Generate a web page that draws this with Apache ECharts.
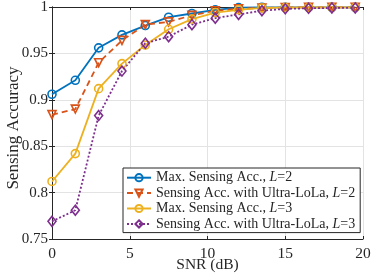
<!DOCTYPE html>
<html>
<head>
<meta charset="utf-8">
<script src="https://cdn.jsdelivr.net/npm/echarts@6/dist/echarts.min.js"></script>
<style>html,body{margin:0;padding:0;background:#fff;}#c{width:374px;height:278px;}</style>
</head>
<body>
<div id="c"></div>
<script>
const snr = [0, 1.5, 3, 4.5, 6, 7.5, 9, 10.5, 12, 13.5, 15, 16.5, 18, 19.5];
const maxL2 = [0.906, 0.921, 0.956, 0.970, 0.980, 0.989, 0.993, 0.997, 0.9993, 0.9996, 0.9997, 0.9997, 0.9997, 0.9997];
const ulL2 = [0.884, 0.890, 0.940, 0.964, 0.981, 0.984, 0.991, 0.996, 0.998, 0.999, 0.9995, 0.9996, 0.9996, 0.9996];
const maxL3 = [0.812, 0.842, 0.912, 0.939, 0.959, 0.976, 0.987, 0.994, 0.997, 0.999, 0.9994, 0.9995, 0.9995, 0.9995];
const ulL3 = [0.769, 0.781, 0.883, 0.931, 0.961, 0.968, 0.981, 0.988, 0.992, 0.996, 0.998, 0.9986, 0.999, 0.999];
const names = ['Max. Sensing Acc., L=2', 'Sensing Acc. with Ultra-LoLa, L=2', 'Max. Sensing Acc., L=3', 'Sensing Acc. with Ultra-LoLa, L=3'];
const xTicks = [0, 5, 10, 15, 20];
const yTicks = [0.75, 0.8, 0.85, 0.9, 0.95, 1];

const serif = "'Liberation Serif', 'DejaVu Serif', serif";
const axisColor = '#262626';
const pairs = a => a.map((v, i) => [snr[i], v]);

function mk(name, data, color, symbol, dash) {
  return {
    name, type: 'line', data: pairs(data),
    symbol, symbolSize: 8,
    lineStyle: { color, width: 1.8, type: dash },
    itemStyle: { color: 'rgba(255,255,255,0)', borderColor: color, borderWidth: 1.6 },
    emphasis: { disabled: true }, animation: false
  };
}
const tri = 'path://M0,0 L10,0 L5,9 Z';
const series = [
  mk(names[0], maxL2, '#0072BD', 'circle', 'solid'),
  mk(names[1], ulL2, '#D95319', tri, [6, 4]),
  mk(names[2], maxL3, '#EDB120', 'circle', 'solid'),
  mk(names[3], ulL3, '#7E2F8E', 'diamond', [2, 2])
];
series[3].symbolSize = [8, 10];

const chart = echarts.init(document.getElementById('c'), null, { renderer: 'canvas' });
chart.setOption({
  backgroundColor: '#fff',
  animation: false,
  grid: { left: 52, right: 11, top: 7, bottom: 39, containLabel: false, outerBoundsMode: 'none' },
  xAxis: [{
    type: 'value', min: 0, max: 20, interval: 5,
    name: 'SNR (dB)', nameLocation: 'middle', nameGap: 18, nameMoveOverlap: false,
    nameTextStyle: { fontFamily: serif, fontSize: 15.5, color: axisColor },
    axisLine: { lineStyle: { color: axisColor, width: 1 } },
    axisTick: { inside: true, length: 3, lineStyle: { color: axisColor } },
    axisLabel: { fontFamily: serif, fontSize: 15.5, color: axisColor, margin: 7,
      formatter: v => { const t = xTicks.find(k => k === v); return t === undefined ? '' : String(t); } },
    splitLine: { show: true, lineStyle: { color: '#e3e3e3', width: 1 } }
  }, {
    type: 'value', min: 0, max: 20, interval: 5, position: 'top',
    axisLine: { show: true, lineStyle: { color: axisColor } },
    axisTick: { inside: true, length: 3, lineStyle: { color: axisColor } },
    axisLabel: { show: false }, splitLine: { show: false }
  }],
  yAxis: [{
    type: 'value', min: 0.75, max: 1, interval: 0.05,
    name: 'Sensing Accuracy', nameLocation: 'middle', nameGap: 30, nameMoveOverlap: false,
    nameTextStyle: { fontFamily: serif, fontSize: 17, color: axisColor, padding: [0, 10, 0, 0] },
    axisLine: { show: true, lineStyle: { color: axisColor, width: 1 } },
    axisTick: { show: true, inside: true, length: 3, lineStyle: { color: axisColor } },
    axisLabel: { fontFamily: serif, fontSize: 15, color: axisColor, margin: 4,
      formatter: v => { const t = yTicks.find(k => Math.abs(k - v) < 1e-9); return t === undefined ? '' : String(t); } },
    splitLine: { show: true, lineStyle: { color: '#e3e3e3', width: 1 } }
  }, {
    type: 'value', min: 0.75, max: 1, interval: 0.05, position: 'right',
    axisLine: { show: true, lineStyle: { color: axisColor } },
    axisTick: { show: true, inside: true, length: 3, lineStyle: { color: axisColor } },
    axisLabel: { show: false }, splitLine: { show: false }
  }],
  legend: {
    orient: 'vertical', left: 123, top: 168,
    padding: [2, 5, 1, 3], itemGap: 0, itemWidth: 24, itemHeight: 9,
    backgroundColor: '#fff', borderColor: '#262626', borderWidth: 1, borderRadius: 0,
    selectedMode: false,
    textStyle: { fontFamily: serif, fontSize: 14, color: '#262626', lineHeight: 15.4,
      rich: {
        a: { fontFamily: serif, fontSize: 14, color: '#262626', lineHeight: 15.4 },
        i: { fontFamily: serif, fontSize: 14, color: '#262626', fontStyle: 'italic', lineHeight: 15.4 }
      } },
    formatter: n => { const m = n.match(/^(.*)L=(\d)$/); return '{a|' + m[1] + '}{i|L}{a|=' + m[2] + '}'; },
    data: names
  },
  series
});
</script>
</body>
</html>
